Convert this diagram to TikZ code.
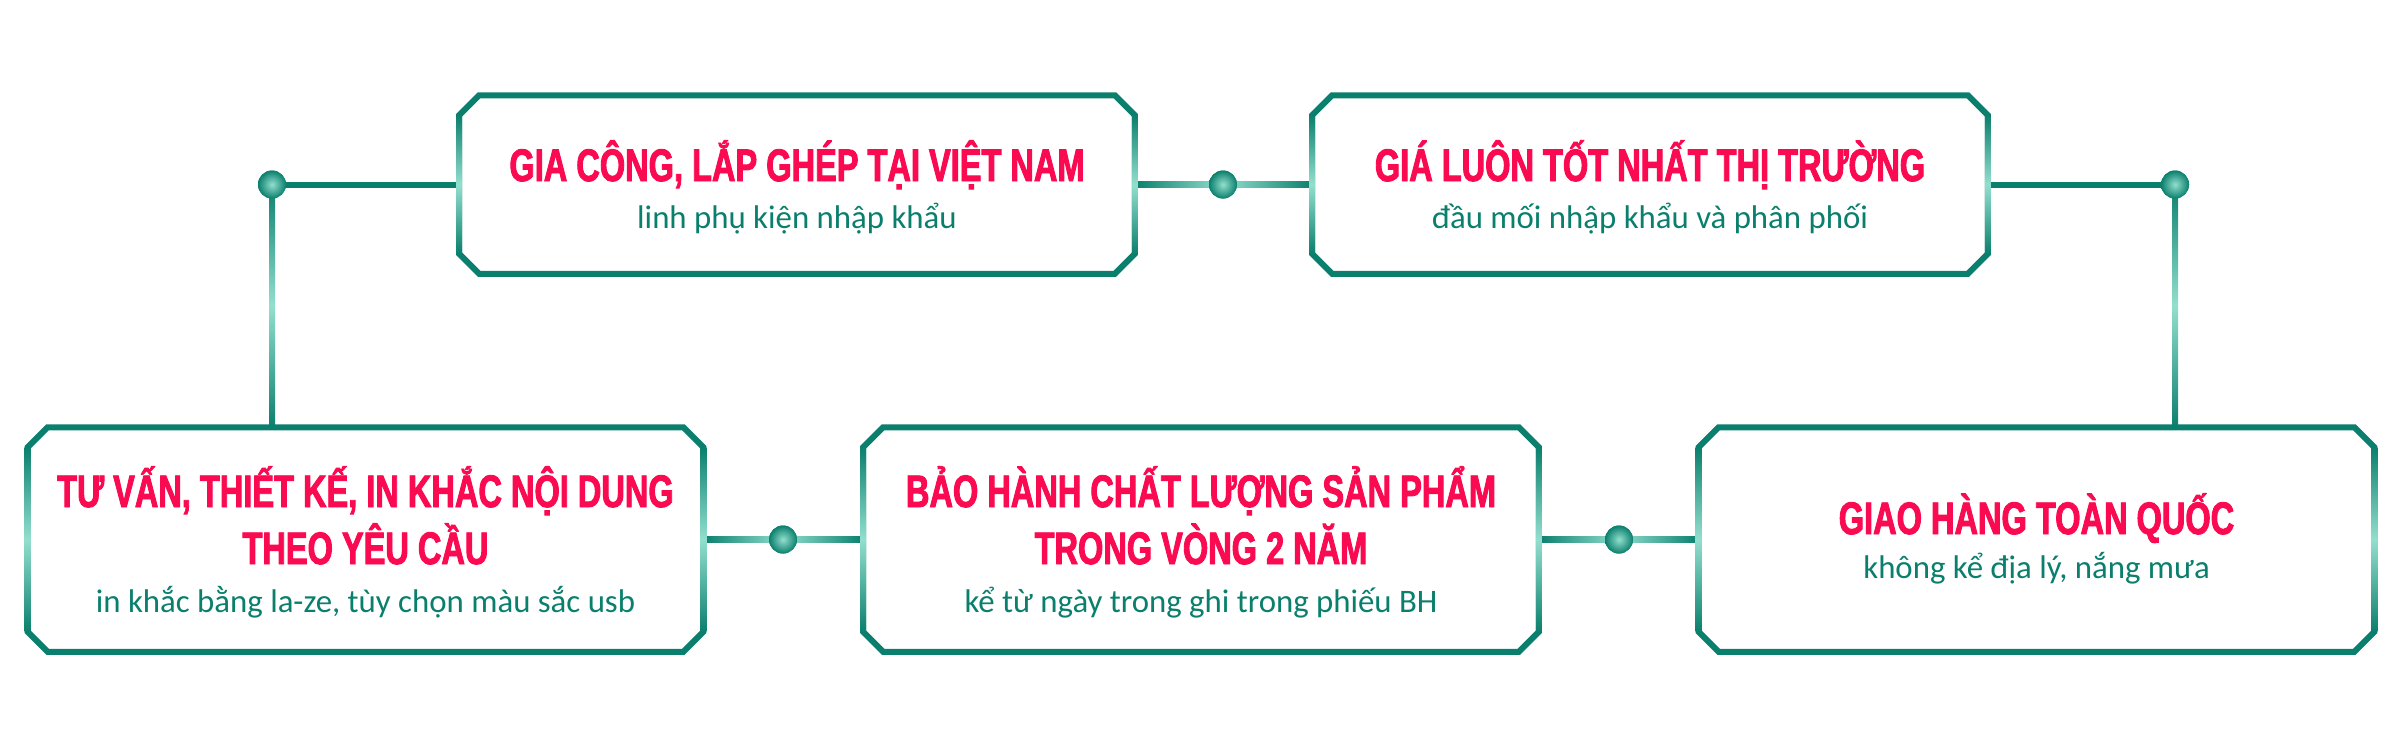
\documentclass[tikz,border=0pt]{standalone}
\usepackage{fontspec}
\usetikzlibrary{calc}
\newfontfamily\titlefont{Liberation Sans Bold}[FakeStretch=0.715,FakeBold=2]
\newfontfamily\subfont{Carlito}
\definecolor{dk}{HTML}{0B7F6D}
\definecolor{lt}{HTML}{93DFCE}
\definecolor{rd}{HTML}{FA0A50}
\tikzset{
  boxn/.style={inner sep=0pt, draw=none, minimum width=6.74cm},
  topbox/.style={boxn, minimum height=1.77cm},
  botbox/.style={boxn, minimum height=2.23cm},
  border/.style={draw=dk, line width=0.06cm, line join=miter},
  conn/.style={draw=dk, line width=0.06cm},
  dotn/.style={circle, inner sep=0pt, minimum size=0.28cm, inner color=lt, outer color=dk},
  ttl/.style={font=\titlefont\fontsize{0.455cm}{0.57cm}\selectfont, text=rd, inner sep=0pt, anchor=base},
  sub/.style={font=\subfont\fontsize{0.328cm}{0.4cm}\selectfont, text=dk, inner sep=0pt, anchor=base},
}
\newcommand\chbox[2]{%
  \draw[border] ($(#1.north west)+(#2,0pt)$) -- ($(#1.north east)+(-#2,0pt)$)
    -- ($(#1.north east)+(0pt,-#2)$) -- ($(#1.south east)+(0pt,#2)$)
    -- ($(#1.south east)+(-#2,0pt)$) -- ($(#1.south west)+(#2,0pt)$)
    -- ($(#1.south west)+(0pt,#2)$) -- ($(#1.north west)+(0pt,-#2)$) -- cycle;
  \shade[top color=dk, bottom color=dk, middle color=lt]
    ($(#1.north east)+(-0.03cm,-#2)$) rectangle ($(#1.south east)+(0.03cm,#2)$);
  \shade[top color=dk, bottom color=dk, middle color=lt]
    ($(#1.north west)+(-0.03cm,-#2)$) rectangle ($(#1.south west)+(0.03cm,#2)$);
}
\begin{document}
\begin{tikzpicture}[x=0.01cm, y=-0.01cm]
\useasboundingbox (0,0) rectangle (2400,750);
% box frames (named)
\node[topbox] (b1) at (797,184.5) {};
\node[topbox] (b2) at (1650,184.5) {};
\node[botbox] (b3) at (365.5,539.5) {};
\node[botbox] (b4) at (1201,539.5) {};
\node[botbox] (b5) at (2036.5,539.5) {};
% dots
\node[dotn] (dA) at (272,184.5) {};
\node[dotn] (dB) at (1223,184.5) {};
\node[dotn] (dC) at (2175,184.5) {};
\node[dotn] (dD) at (783,539.5) {};
\node[dotn] (dE) at (1619,539.5) {};
% connectors
\draw[conn] (dA.center) -- (b1.west);
\shade[top color=dk, bottom color=dk, middle color=lt] ($(dA.center)+(-0.03cm,0pt)$) rectangle ($(dA.center |- b3.north)+(0.03cm,0pt)$);
\shade[left color=dk, right color=lt] ($(b1.east)+(0pt,-0.03cm)$) rectangle ($(dB.center)+(0pt,0.03cm)$);
\shade[left color=lt, right color=dk] ($(dB.center)+(0pt,-0.03cm)$) rectangle ($(b2.west)+(0pt,0.03cm)$);
\draw[conn] (b2.east) -- (dC.center);
\shade[top color=dk, bottom color=dk, middle color=lt] ($(dC.center)+(-0.03cm,0pt)$) rectangle ($(dC.center |- b5.north)+(0.03cm,0pt)$);
\shade[left color=dk, right color=lt] ($(b3.east)+(0pt,-0.03cm)$) rectangle ($(dD.center)+(0pt,0.03cm)$);
\shade[left color=lt, right color=dk] ($(dD.center)+(0pt,-0.03cm)$) rectangle ($(b4.west)+(0pt,0.03cm)$);
\shade[left color=dk, right color=lt] ($(b4.east)+(0pt,-0.03cm)$) rectangle ($(dE.center)+(0pt,0.03cm)$);
\shade[left color=lt, right color=dk] ($(dE.center)+(0pt,-0.03cm)$) rectangle ($(b5.west)+(0pt,0.03cm)$);
% outlines
\chbox{b1}{0.2cm}
\chbox{b2}{0.2cm}
\chbox{b3}{0.2cm}
\chbox{b4}{0.2cm}
\chbox{b5}{0.2cm}
% dots on top
\node[dotn] at (dA) {};
\node[dotn] at (dB) {};
\node[dotn] at (dC) {};
\node[dotn] at (dD) {};
\node[dotn] at (dE) {};
% texts
\node[ttl] (t1) at (797,181) {GIA CÔNG, LẮP GHÉP TẠI VIỆT NAM};
\node[sub] (s1) at (797,228) {linh phụ kiện nhập khẩu};
\node[ttl] (t2) at (1650,181) {GIÁ LUÔN TỐT NHẤT THỊ TRƯỜNG};
\node[sub] (s2) at (1650,228) {đầu mối nhập khẩu và phân phối};
\node[ttl] (t3a) at (365.5,507) {TƯ VẤN, THIẾT KẾ, IN KHẮC NỘI DUNG};
\node[ttl] (t3b) at (365.5,564) {THEO YÊU CẦU};
\node[sub] (s3) at (365.5,612) {in khắc bằng la-ze, tùy chọn màu sắc usb};
\node[ttl] (t4a) at (1201,507) {BẢO HÀNH CHẤT LƯỢNG SẢN PHẨM};
\node[ttl] (t4b) at (1201,564) {TRONG VÒNG 2 NĂM};
\node[sub] (s4) at (1201,612) {kể từ ngày trong ghi trong phiếu BH};
\node[ttl] (t5) at (2036.5,534) {GIAO HÀNG TOÀN QUỐC};
\node[sub] (s5) at (2036.5,578) {không kể địa lý, nắng mưa};
\end{tikzpicture}
\end{document}
